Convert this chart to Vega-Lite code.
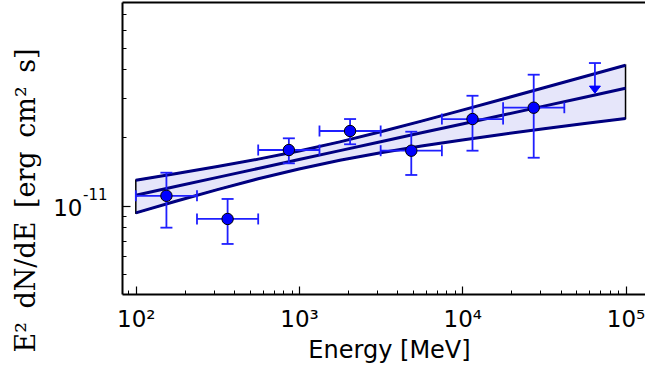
{
  "$schema": "https://vega.github.io/schema/vega-lite/v6.json",
  "width": 523,
  "height": 292,
  "autosize": {"type": "none"},
  "padding": {"left": 122, "top": 2, "right": 0, "bottom": 75},
  "background": "white",
  "config": {
    "view": {"stroke": null},
    "axis": {"grid": false, "labelColor": "black", "tickColor": "black", "domainColor": "black", "titleColor": "black", "titleFontWeight": "normal", "labelFlush": false, "labelOverlap": false, "zindex": 1}
  },
  "datasets": {
    "band": [
      {"E": 100, "lo": 9.273e-12, "mid": 1.1105e-11, "hi": 1.2937e-11},
      {"E": 177.83, "lo": 1.0468e-11, "mid": 1.2162e-11, "hi": 1.3856e-11},
      {"E": 316.23, "lo": 1.1762e-11, "mid": 1.3317e-11, "hi": 1.4872e-11},
      {"E": 562.34, "lo": 1.3129e-11, "mid": 1.4583e-11, "hi": 1.6037e-11},
      {"E": 1000, "lo": 1.4512e-11, "mid": 1.5970e-11, "hi": 1.7428e-11},
      {"E": 1778.3, "lo": 1.5846e-11, "mid": 1.7487e-11, "hi": 1.9128e-11},
      {"E": 3162.3, "lo": 1.7109e-11, "mid": 1.9149e-11, "hi": 2.1189e-11},
      {"E": 5623.4, "lo": 1.8317e-11, "mid": 2.0967e-11, "hi": 2.3617e-11},
      {"E": 10000, "lo": 1.9504e-11, "mid": 2.2961e-11, "hi": 2.6418e-11},
      {"E": 17783, "lo": 2.0684e-11, "mid": 2.5142e-11, "hi": 2.9600e-11},
      {"E": 31623, "lo": 2.1868e-11, "mid": 2.7530e-11, "hi": 3.3192e-11},
      {"E": 56234, "lo": 2.3065e-11, "mid": 3.0150e-11, "hi": 3.7235e-11},
      {"E": 100000, "lo": 2.4259e-11, "mid": 3.3005e-11, "hi": 4.1751e-11}
    ],
    "pts": [
      {"E": 154, "F": 1.104e-11, "Elo": 100, "Ehi": 237, "Flo": 7.98e-12, "Fhi": 1.397e-11},
      {"E": 365, "F": 8.72e-12, "Elo": 237, "Ehi": 562, "Flo": 6.76e-12, "Fhi": 1.069e-11},
      {"E": 866, "F": 1.760e-11, "Elo": 562, "Ehi": 1334, "Flo": 1.537e-11, "Fhi": 1.983e-11},
      {"E": 2054, "F": 2.136e-11, "Elo": 1334, "Ehi": 3162, "Flo": 1.866e-11, "Fhi": 2.413e-11},
      {"E": 4870, "F": 1.748e-11, "Elo": 3162, "Ehi": 7499, "Flo": 1.365e-11, "Fhi": 2.121e-11},
      {"E": 11548, "F": 2.413e-11, "Elo": 7499, "Ehi": 17783, "Flo": 1.748e-11, "Fhi": 3.059e-11},
      {"E": 27384, "F": 2.708e-11, "Elo": 17783, "Ehi": 42170, "Flo": 1.627e-11, "Fhi": 3.791e-11}
    ],
    "ul": [
      {"E": 64938, "UL": 4.269e-11, "tip": 3.254e-11}
    ]
  },
  "resolve": {"axis": {"x": "independent", "y": "independent"}},
  "layer": [
    {
      "data": {"name": "band"},
      "mark": {"type": "area", "fill": "#e6e6fa", "stroke": "black", "strokeWidth": 1.5, "opacity": 1},
      "encoding": {
        "x": {"field": "E", "type": "quantitative", "scale": {"type": "log", "domain": [82.3, 131600], "nice": false, "zero": false},
          "axis": {"orient": "bottom", "values": [100, 1000, 10000, 100000], "labels": false,
            "tickSize": -8, "tickWidth": 1.2, "domainWidth": 2,
            "title": "Energy [MeV]", "titleFont": "DejaVu Sans", "titleFontSize": 24, "titleX": 267, "titleY": 63, "titleBaseline": "alphabetic", "titleAlign": "center"}},
        "y": {"field": "lo", "type": "quantitative", "scale": {"type": "log", "domain": [4.06e-12, 7.95e-11], "nice": false, "zero": false},
          "axis": {"orient": "left", "values": [1e-11], "labels": false, "tickSize": -8, "tickWidth": 1.2, "domainWidth": 2,
            "title": "E²\u2002dN/dE\u2002[erg\u2002cm²\u2002s]", "titleFont": "DejaVu Serif", "titleFontSize": 27, "titleX": -88, "titleY": 198, "titleBaseline": "alphabetic", "titleAlign": "center", "titleAngle": 270}},
        "y2": {"field": "hi"}
      }
    },
    {
      "data": {"name": "band"},
      "mark": {"type": "line", "color": "#000080", "strokeWidth": 3},
      "encoding": {
        "x": {"field": "E", "type": "quantitative", "scale": {"type": "log", "domain": [82.3, 131600], "nice": false, "zero": false},
          "axis": {"orient": "bottom", "values": [90, 200, 300, 400, 500, 600, 700, 800, 900, 2000, 3000, 4000, 5000, 6000, 7000, 8000, 9000, 20000, 30000, 40000, 50000, 60000, 70000, 80000, 90000],
            "tickSize": -4, "tickWidth": 1, "labels": false, "domain": false, "title": null}},
        "y": {"field": "hi", "type": "quantitative", "scale": {"type": "log", "domain": [4.06e-12, 7.95e-11], "nice": false, "zero": false},
          "axis": {"orient": "left", "values": [5e-12, 6e-12, 7e-12, 8e-12, 9e-12, 2e-11, 3e-11, 4e-11, 5e-11, 6e-11, 7e-11],
            "tickSize": -4, "tickWidth": 1, "labels": false, "domain": false, "title": null}}
      }
    },
    {
      "data": {"name": "band"},
      "mark": {"type": "line", "color": "#000080", "strokeWidth": 3},
      "encoding": {
        "x": {"field": "E", "type": "quantitative", "scale": {"type": "log", "domain": [82.3, 131600], "nice": false, "zero": false},
          "axis": {"orient": "top", "values": [], "ticks": false, "labels": false, "domain": true, "domainWidth": 2, "title": null}},
        "y": {"field": "mid", "type": "quantitative", "scale": {"type": "log", "domain": [4.06e-12, 7.95e-11], "nice": false, "zero": false},
          "axis": {"orient": "left", "values": [1e-11], "labelExpr": "'10'", "ticks": false, "domain": false, "labelFont": "DejaVu Sans", "labelFontSize": 23, "labelPadding": 40, "labelAlign": "right", "labelBaseline": "middle", "labelOffset": 3, "title": null}}
      }
    },
    {
      "data": {"name": "band"},
      "mark": {"type": "line", "color": "#000080", "strokeWidth": 3},
      "encoding": {
        "x": {"field": "E", "type": "quantitative", "scale": {"type": "log", "domain": [82.3, 131600], "nice": false, "zero": false},
          "axis": {"orient": "bottom", "values": [100, 1000, 10000, 100000], "labelExpr": "datum.value == 100 ? '10²' : datum.value == 1000 ? '10³' : datum.value == 10000 ? '10⁴' : '10⁵'",
            "ticks": false, "domain": false, "labelFont": "DejaVu Sans", "labelFontSize": 23, "labelPadding": 14, "title": null}},
        "y": {"field": "lo", "type": "quantitative", "scale": {"type": "log", "domain": [4.06e-12, 7.95e-11], "nice": false, "zero": false},
          "axis": {"orient": "left", "values": [1e-11], "labelExpr": "'-11'", "ticks": false, "domain": false, "labelFont": "DejaVu Sans", "labelFontSize": 15, "labelPadding": 15, "labelAlign": "right", "labelBaseline": "middle", "labelOffset": -11, "title": null}}
      }
    },
    {
      "data": {"name": "pts"},
      "mark": {"type": "rule", "color": "#1f1fff", "strokeWidth": 1.8},
      "encoding": {
        "x": {"field": "Elo", "type": "quantitative", "scale": {"type": "log", "domain": [82.3, 131600], "nice": false, "zero": false}, "axis": null},
        "x2": {"field": "Ehi"},
        "y": {"field": "F", "type": "quantitative", "scale": {"type": "log", "domain": [4.06e-12, 7.95e-11], "nice": false, "zero": false}, "axis": null}
      }
    },
    {
      "data": {"name": "pts"},
      "mark": {"type": "rule", "color": "#1f1fff", "strokeWidth": 1.8},
      "encoding": {
        "x": {"field": "E", "type": "quantitative", "scale": {"type": "log", "domain": [82.3, 131600], "nice": false, "zero": false}, "axis": null},
        "y": {"field": "Flo", "type": "quantitative", "scale": {"type": "log", "domain": [4.06e-12, 7.95e-11], "nice": false, "zero": false}, "axis": null},
        "y2": {"field": "Fhi"}
      }
    },
    {
      "data": {"name": "pts"},
      "mark": {"type": "tick", "orient": "horizontal", "color": "#1f1fff", "size": 12, "thickness": 1.8, "opacity": 1},
      "encoding": {
        "x": {"field": "E", "type": "quantitative", "scale": {"type": "log", "domain": [82.3, 131600], "nice": false, "zero": false}, "axis": null},
        "y": {"field": "Flo", "type": "quantitative", "scale": {"type": "log", "domain": [4.06e-12, 7.95e-11], "nice": false, "zero": false}, "axis": null}
      }
    },
    {
      "data": {"name": "pts"},
      "mark": {"type": "tick", "orient": "horizontal", "color": "#1f1fff", "size": 12, "thickness": 1.8, "opacity": 1},
      "encoding": {
        "x": {"field": "E", "type": "quantitative", "scale": {"type": "log", "domain": [82.3, 131600], "nice": false, "zero": false}, "axis": null},
        "y": {"field": "Fhi", "type": "quantitative", "scale": {"type": "log", "domain": [4.06e-12, 7.95e-11], "nice": false, "zero": false}, "axis": null}
      }
    },
    {
      "data": {"name": "pts"},
      "mark": {"type": "tick", "orient": "vertical", "color": "#1f1fff", "size": 11, "thickness": 1.8, "opacity": 1},
      "encoding": {
        "x": {"field": "Elo", "type": "quantitative", "scale": {"type": "log", "domain": [82.3, 131600], "nice": false, "zero": false}, "axis": null},
        "y": {"field": "F", "type": "quantitative", "scale": {"type": "log", "domain": [4.06e-12, 7.95e-11], "nice": false, "zero": false}, "axis": null}
      }
    },
    {
      "data": {"name": "pts"},
      "mark": {"type": "tick", "orient": "vertical", "color": "#1f1fff", "size": 11, "thickness": 1.8, "opacity": 1},
      "encoding": {
        "x": {"field": "Ehi", "type": "quantitative", "scale": {"type": "log", "domain": [82.3, 131600], "nice": false, "zero": false}, "axis": null},
        "y": {"field": "F", "type": "quantitative", "scale": {"type": "log", "domain": [4.06e-12, 7.95e-11], "nice": false, "zero": false}, "axis": null}
      }
    },
    {
      "data": {"name": "pts"},
      "mark": {"type": "circle", "size": 130, "fill": "#0000ff", "stroke": "black", "strokeWidth": 1, "opacity": 1},
      "encoding": {
        "x": {"field": "E", "type": "quantitative", "scale": {"type": "log", "domain": [82.3, 131600], "nice": false, "zero": false}, "axis": null},
        "y": {"field": "F", "type": "quantitative", "scale": {"type": "log", "domain": [4.06e-12, 7.95e-11], "nice": false, "zero": false}, "axis": null}
      }
    },
    {
      "data": {"name": "ul"},
      "mark": {"type": "rule", "color": "#1f1fff", "strokeWidth": 1.8},
      "encoding": {
        "x": {"field": "E", "type": "quantitative", "scale": {"type": "log", "domain": [82.3, 131600], "nice": false, "zero": false}, "axis": null},
        "y": {"field": "UL", "type": "quantitative", "scale": {"type": "log", "domain": [4.06e-12, 7.95e-11], "nice": false, "zero": false}, "axis": null},
        "y2": {"field": "tip"}
      }
    },
    {
      "data": {"name": "ul"},
      "mark": {"type": "tick", "orient": "horizontal", "color": "#1f1fff", "size": 12, "thickness": 1.8, "opacity": 1},
      "encoding": {
        "x": {"field": "E", "type": "quantitative", "scale": {"type": "log", "domain": [82.3, 131600], "nice": false, "zero": false}, "axis": null},
        "y": {"field": "UL", "type": "quantitative", "scale": {"type": "log", "domain": [4.06e-12, 7.95e-11], "nice": false, "zero": false}, "axis": null}
      }
    },
    {
      "data": {"name": "ul"},
      "mark": {"type": "point", "shape": "M-1,-0.65L1,-0.65L0,0.65Z", "size": 121, "filled": true, "fill": "#0000ff", "stroke": "#0000ff", "strokeWidth": 1, "opacity": 1},
      "encoding": {
        "x": {"field": "E", "type": "quantitative", "scale": {"type": "log", "domain": [82.3, 131600], "nice": false, "zero": false}, "axis": null},
        "y": {"field": "tip", "type": "quantitative", "scale": {"type": "log", "domain": [4.06e-12, 7.95e-11], "nice": false, "zero": false}, "axis": null}
      }
    }
  ]
}
